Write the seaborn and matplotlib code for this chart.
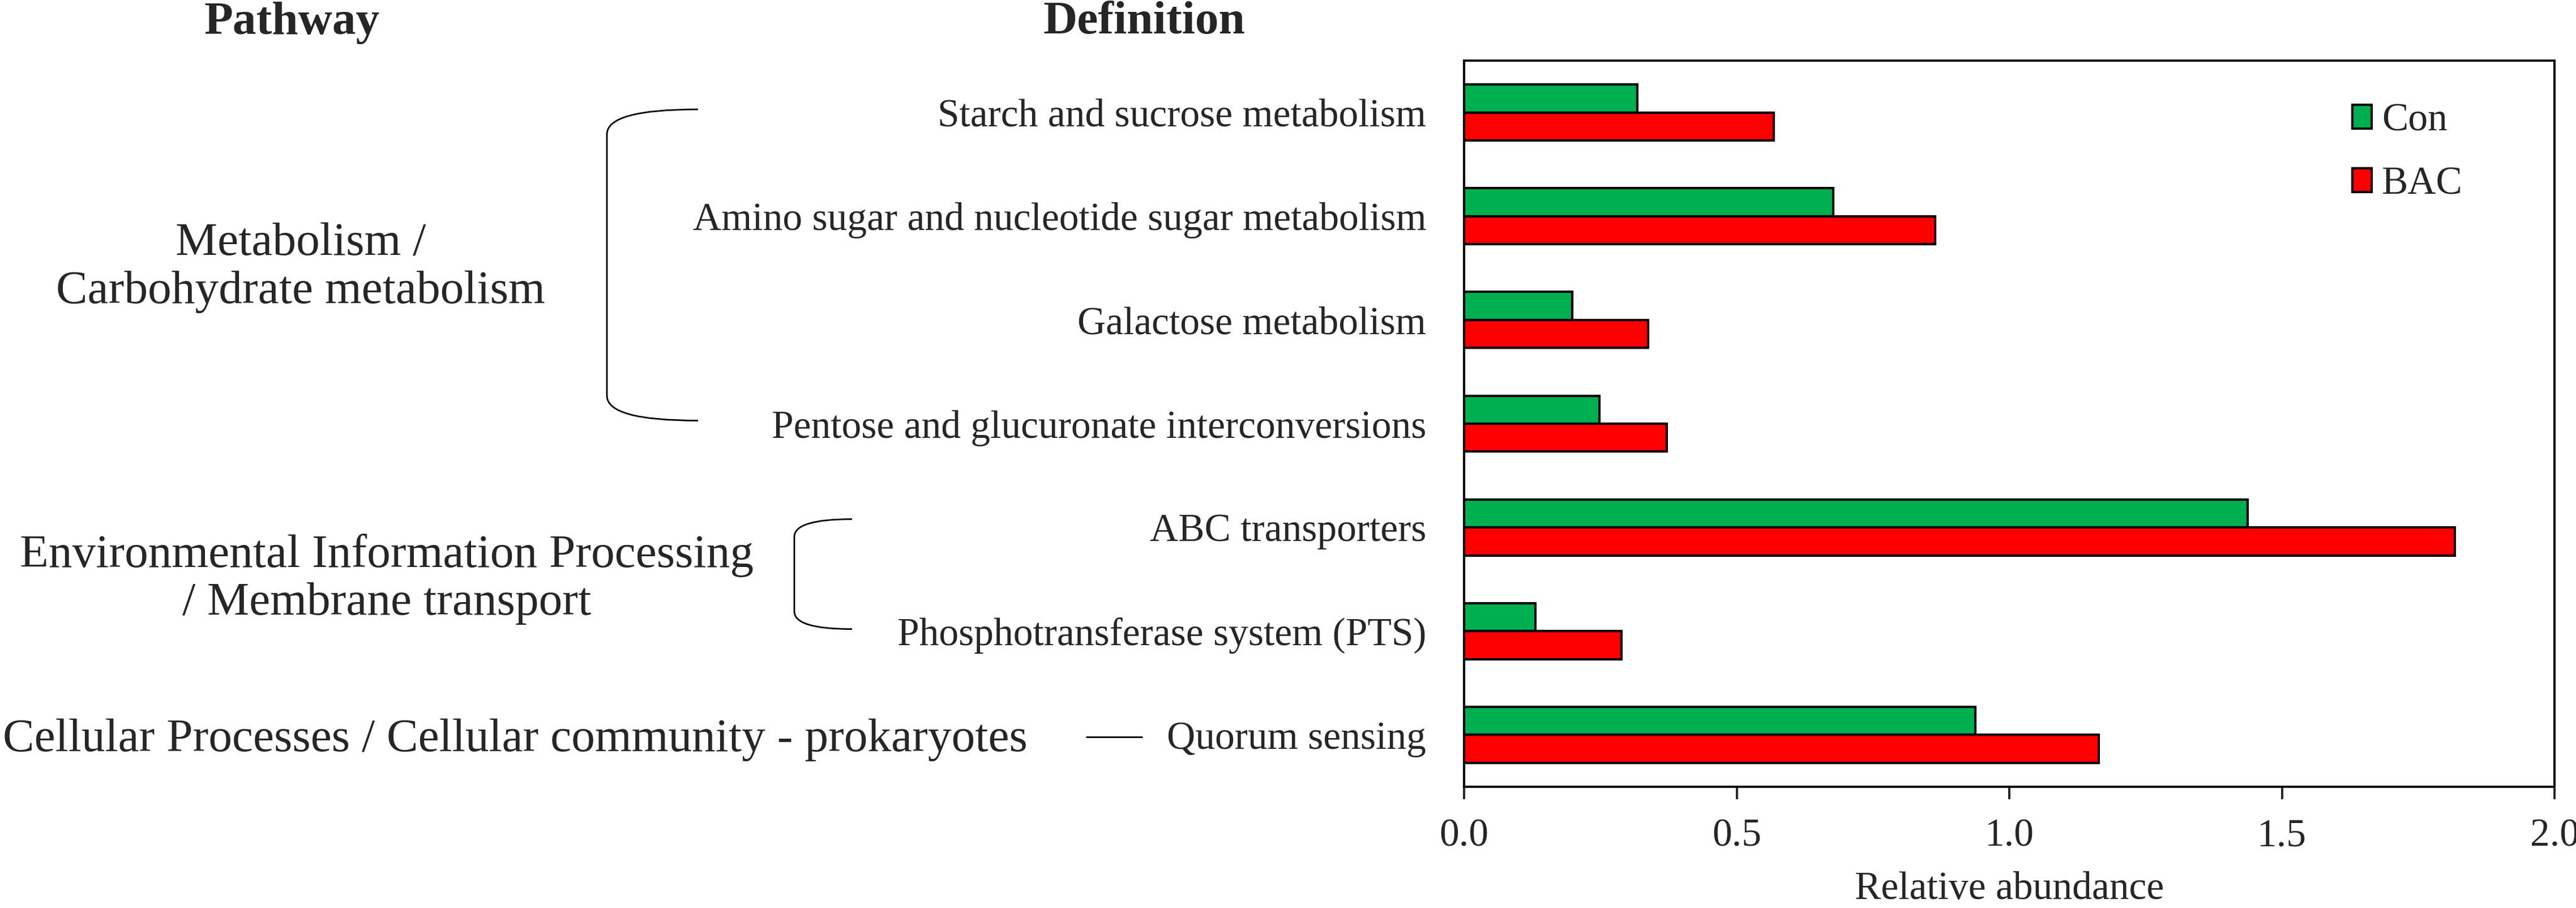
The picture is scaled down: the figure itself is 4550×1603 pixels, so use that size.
import numpy as np
import pandas as pd
import seaborn as sns
import matplotlib.pyplot as plt
from matplotlib.path import Path
from matplotlib.patches import PathPatch
from matplotlib.transforms import blended_transform_factory

# definitions (top to bottom) and relative abundance per group
definitions = ["Starch and sucrose metabolism",
               "Amino sugar and nucleotide sugar metabolism",
               "Galactose metabolism",
               "Pentose and glucuronate interconversions",
               "ABC transporters",
               "Phosphotransferase system (PTS)",
               "Quorum sensing"]
con = [0.318, 0.677, 0.198, 0.248, 1.437, 0.131, 0.938]
bac = [0.568, 0.864, 0.338, 0.372, 1.817, 0.289, 1.164]
groups = ["Con", "BAC"]
xticks = [0.0, 0.5, 1.0, 1.5, 2.0]

pathways = ["Metabolism /\nCarbohydrate metabolism",
            "Environmental Information Processing\n/ Membrane transport",
            "Cellular Processes / Cellular community - prokaryotes"]

df = pd.DataFrame({
    "Definition": definitions * 2,
    "value": con + bac,
    "Group": [groups[0]] * len(con) + [groups[1]] * len(bac),
})

sns.set_style("white")
plt.rcParams["font.family"] = ["Liberation Serif", "DejaVu Serif"]

W, H = 4550, 1603
fig = plt.figure(figsize=(W / 100, H / 100), dpi=100)
ax = fig.add_axes([2586 / W, 1 - 1389 / H, 1926 / W, 1282 / H])

sns.barplot(data=df, y="Definition", x="value", hue="Group", orient="h",
            palette={"Con": "#00B050", "BAC": "#FF0000"}, saturation=1,
            width=0.54, edgecolor="black", linewidth=3, ax=ax)

ax.set_xlim(0, 2.0)
ax.set_ylim(len(definitions) - 0.5, -0.5)
ax.set_xticks(xticks)
ax.set_xticklabels([f"{t:.1f}" for t in xticks])
ax.set_ylabel("")
ax.set_xlabel("Relative abundance", fontsize=50, labelpad=22)
ax.tick_params(axis="x", direction="out", length=16, width=2.8, pad=24,
               labelsize=50, bottom=True)
ax.tick_params(axis="y", length=0, pad=48, labelsize=50)
for s in ax.spines.values():
    s.set_visible(True)
    s.set_color("black")
    s.set_linewidth(2.8)

leg = ax.legend(loc="upper left", bbox_to_anchor=(0.8, 0.963), frameon=False,
                fontsize=50, handlelength=0.5, handleheight=0.55,
                handletextpad=0.25, labelspacing=0.7, borderaxespad=0)
for h in leg.legend_handles:
    h.set_edgecolor("black")
    h.set_linewidth(3)

# headers
fig.text(516 / W, 1 - 40 / H, "Pathway", ha="center", va="center",
         fontsize=60, fontweight="bold")
fig.text(2021 / W, 1 - 40 / H, "Definition", ha="center", va="center",
         fontsize=60, fontweight="bold")

tr = blended_transform_factory(fig.transFigure, ax.transData)
ax.text(531 / W, 1.5, pathways[0], transform=tr, ha="center", va="center",
        fontsize=60, linespacing=1.15, clip_on=False)
ax.text(683 / W, 4.5, pathways[1], transform=tr, ha="center", va="center",
        fontsize=60, linespacing=1.15, clip_on=False)
ax.text(5 / W, 6.05, pathways[2], transform=tr, ha="left", va="center",
        fontsize=60, clip_on=False)


def bracket(x_v, x_end, y0, y1, dy):
    xv, xe = x_v / W, x_end / W
    verts = [(xe, y0), (xv, y0), (xv, y0 + dy), (xv, y1 - dy),
             (xv, y1), (xe, y1)]
    codes = [Path.MOVETO, Path.CURVE3, Path.CURVE3, Path.LINETO,
             Path.CURVE3, Path.CURVE3]
    ax.add_patch(PathPatch(Path(verts, codes), transform=tr, fill=False,
                           lw=2, edgecolor="black", clip_on=False))


bracket(1072, 1233, -0.03, 2.97, 0.24)
bracket(1403, 1505, 3.92, 4.98, 0.17)
ax.plot([1919 / W, 2017 / W], [6.02, 6.02], transform=tr, color="black",
        lw=2, clip_on=False)

fig.savefig("out.png", dpi=100)
